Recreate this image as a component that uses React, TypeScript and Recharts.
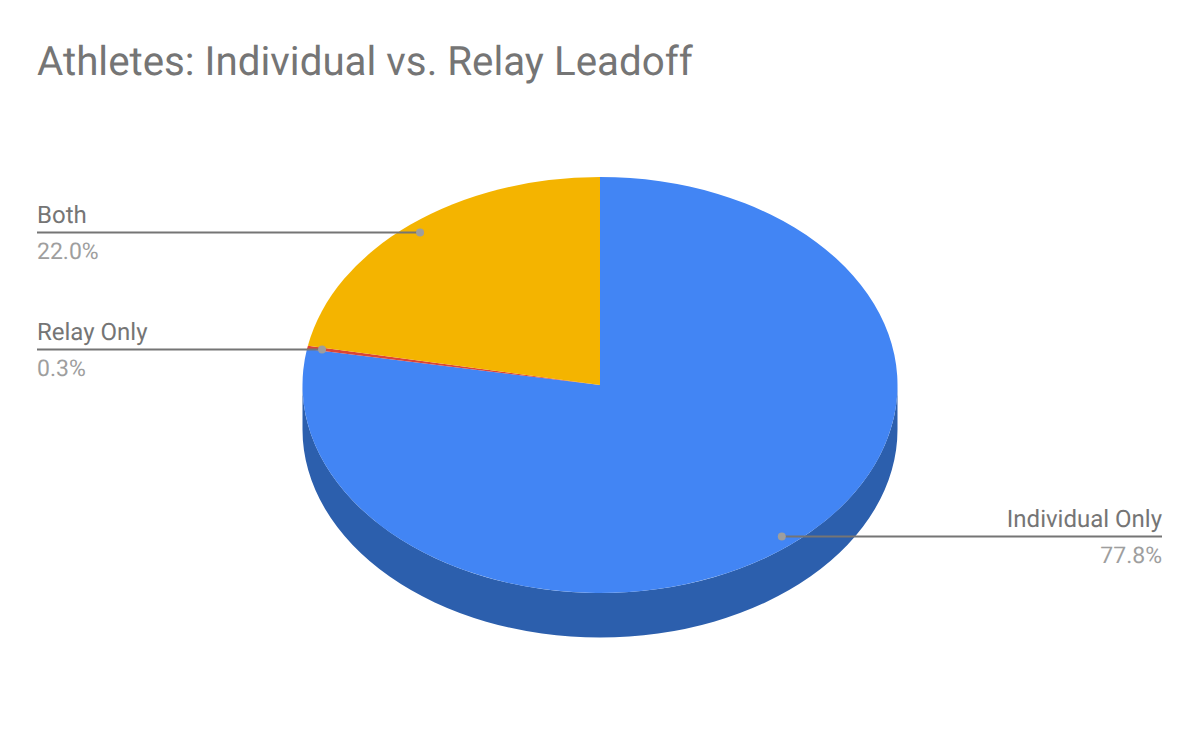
import { PieChart, Pie, Cell } from "recharts";

const categories = ["Individual Only", "Relay Only", "Both"];
const shares = [77.76, 0.27, 21.97];
const COLORS = ["#4285f4", "#db4437", "#f4b400"];
const SIDE_COLORS = ["#2c5fad", "#992f26", "#aa7d00"];

const CX = 600;
const CY = 385;
const RX = 297.5;
const RY = 208;
const DEPTH = 44.5;
const LEFT_EDGE = 37;
const RIGHT_EDGE = 1162;

const data = categories.map((name, i) => ({ name, value: shares[i] }));

const RAD = Math.PI / 180;
const px = (a: number) => CX + RX * Math.cos(a * RAD);
const py = (a: number) => CY - RY * Math.sin(a * RAD);

// recharts only knows circles, so squash its sector angles into an ellipse
const EllipseSector = (props: any) => {
  const { startAngle, endAngle, fill } = props;
  const large = Math.abs(startAngle - endAngle) > 180 ? 1 : 0;
  const d = `M${CX},${CY} L${px(startAngle)},${py(startAngle)} A${RX},${RY} 0 ${large} 1 ${px(endAngle)},${py(endAngle)} Z`;
  return <path d={d} fill={fill} stroke="none" />;
};

// extruded wall, only the part of the rim facing the viewer (angles -180..0)
const SideWall = (props: any) => {
  const { startAngle, endAngle, fill } = props;
  const from = Math.min(startAngle, 0);
  const to = Math.max(endAngle, -180);
  if (from <= to) return null;
  const d =
    `M${px(from)},${py(from)} A${RX},${RY} 0 0 1 ${px(to)},${py(to)} ` +
    `L${px(to)},${py(to) + DEPTH} A${RX},${RY} 0 0 0 ${px(from)},${py(from) + DEPTH} Z`;
  return <path d={d} fill={fill} stroke="none" />;
};

const renderLabel = (props: any) => {
  const { midAngle, name, percent } = props;
  const x = CX + 0.95 * RX * Math.cos(midAngle * RAD);
  const y = Math.floor(CY - 0.95 * RY * Math.sin(midAngle * RAD)) + 0.5;
  const right = x > CX;
  const edge = right ? RIGHT_EDGE : LEFT_EDGE;
  const anchor = right ? "end" : "start";
  return (
    <g style={{ textRendering: "geometricPrecision" }}>
      <line x1={x} y1={y} x2={edge} y2={y} stroke="#757575" strokeWidth={2} />
      <circle cx={x} cy={y} r={4} fill="#9e9e9e" />
      <text x={edge} y={y - 9.5} textAnchor={anchor} fontSize={24} fill="#757575">
        {name}
      </text>
      <text x={edge} y={y + 26} textAnchor={anchor} fontSize={23} fill="#9e9e9e">
        {(percent * 100).toFixed(1)}%
      </text>
    </g>
  );
};

export default function App() {
  return (
    <div style={{ position: "absolute", left: 0, top: 0, width: 1200, height: 742, background: "#fff", fontFamily: "Roboto" }}>
      <div style={{ position: "absolute", left: 37, top: 38.5, fontSize: 40.3, lineHeight: "46px", color: "#757575", whiteSpace: "nowrap", textRendering: "geometricPrecision" }}>
        Athletes: Individual vs. Relay Leadoff
      </div>
      <PieChart width={1200} height={742} margin={{ top: 0, right: 0, bottom: 0, left: 0 }}>
        <Pie
          data={data}
          dataKey="value"
          nameKey="name"
          cx={CX}
          cy={CY}
          outerRadius={RX}
          startAngle={90}
          endAngle={-270}
          stroke="none"
          shape={SideWall}
          isAnimationActive={false}
        >
          {data.map((d, i) => (
            <Cell key={d.name} fill={SIDE_COLORS[i]} />
          ))}
        </Pie>
        <Pie
          data={data}
          dataKey="value"
          nameKey="name"
          cx={CX}
          cy={CY}
          outerRadius={RX}
          startAngle={90}
          endAngle={-270}
          stroke="none"
          shape={EllipseSector}
          label={renderLabel}
          labelLine={false}
          isAnimationActive={false}
        >
          {data.map((d, i) => (
            <Cell key={d.name} fill={COLORS[i]} />
          ))}
        </Pie>
      </PieChart>
    </div>
  );
}
